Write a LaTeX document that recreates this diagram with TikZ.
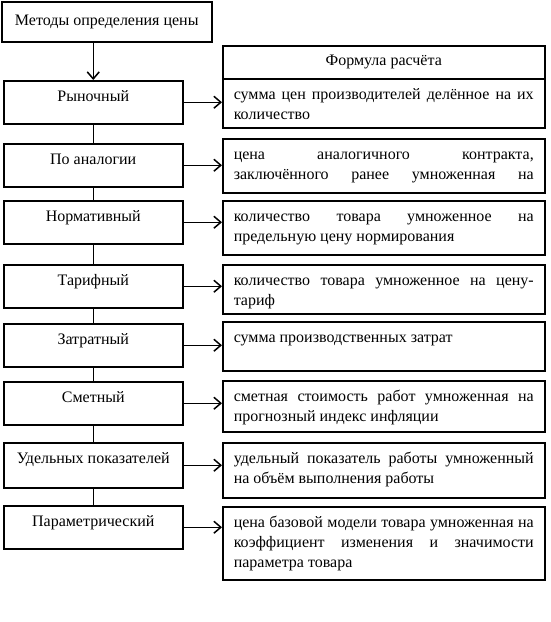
\documentclass[tikz,border=0pt]{standalone}
\usepackage{fontspec}
\setmainfont{Liberation Serif}
\usetikzlibrary{arrows.meta}
\newcommand{\frm}[2]{\parbox[c][#1][t]{300pt}{\tolerance=10000\rule{0pt}{21pt}#2}}

\begin{document}
\begin{tikzpicture}[x=1pt, y=-1pt, font=\fontsize{16pt}{20pt}\selectfont]
		%%%%% START %%%%%
		\tikzset{
			box/.style={draw, line width=1.5pt, inner sep=0pt, anchor=north west},
			method/.style={box, minimum width=179pt, text height=21pt, text depth=22pt},
			formula/.style={box, inner xsep=11pt, inner ysep=0pt},
			link/.style={line width=1.5pt},
			arr/.style={link, -{Straight Barb[length=7pt, width=12pt]}}
		}
		\useasboundingbox (0, 0) rectangle (550, 622);
		
		\node[box, minimum width=210pt, minimum height=40pt] (title) at (1, 1) {Методы определения цены};
		
		% methods
		\node[method] (rynok) at (3, 80) {Рыночный};
		\node[method] (analog) at (3, 143) {По аналогии};
		\node[method] (norm) at (3, 200) {Нормативный};
		\node[method] (tarif) at (3, 264) {Тарифный};
		\node[method] (zatrat) at (3, 323) {Затратный};
		\node[method] (smeta) at (3, 381) {Сметный};
		\node[method, text depth=24pt] (udel) at (3, 442) {Удельных показателей};
		\node[method] (param) at (3, 505) {Параметрический};
		
		% formulas
		\node[box, minimum width=322pt, minimum height=33pt] (head) at (222, 45) {Формула расчёта};
		\node[formula] (f-rynok) at (222, 78) {\frm{49pt}{сумма цен производителей делённое на их\linebreak количество}};
		\node[formula] (f-analog) at (222, 138) {\frm{54pt}{\parfillskip=0pt цена аналогичного контракта,\linebreak заключённого ранее умноженная на}};
		\node[formula] (f-norm) at (222, 200) {\frm{54pt}{количество товара умноженное на\linebreak предельную цену нормирования}};
		\node[formula] (f-tarif) at (222, 264) {\frm{49pt}{количество товара умноженное на цену-\linebreak тариф}};
		\node[formula] (f-zatrat) at (222, 321) {\frm{49pt}{сумма производственных затрат}};
		\node[formula] (f-smeta) at (222, 380) {\frm{51pt}{сметная стоимость работ умноженная на\linebreak прогнозный индекс инфляции}};
		\node[formula] (f-udel) at (222, 442) {\frm{55pt}{удельный показатель работы умноженный\linebreak на объём выполнения работы}};
		\node[formula] (f-param) at (222, 506) {\frm{73pt}{цена базовой модели товара умноженная на\linebreak коэффициент изменения и значимости\linebreak параметра товара}};
		
		% spine
		\draw[arr] (rynok.north |- title.south) -- (rynok.north);
		\draw[link] (rynok.south) -- (analog.north) (analog.south) -- (norm.north)
			(norm.south) -- (tarif.north) (tarif.south) -- (zatrat.north)
			(zatrat.south) -- (smeta.north) (smeta.south) -- (udel.north)
			(udel.south) -- (param.north);
		
		% arrows to formulas
		\draw[arr] (rynok.east) -- (rynok.east -| f-rynok.west);
		\draw[arr] (analog.east) -- (analog.east -| f-analog.west);
		\draw[arr] (norm.east) -- (norm.east -| f-norm.west);
		\draw[arr] (tarif.east) -- (tarif.east -| f-tarif.west);
		\draw[arr] (zatrat.east) -- (zatrat.east -| f-zatrat.west);
		\draw[arr] (smeta.east) -- (smeta.east -| f-smeta.west);
		\draw[arr] (udel.east) -- (udel.east -| f-udel.west);
		\draw[arr] (param.east) -- (param.east -| f-param.west);
		%%%%% END %%%%%
	\end{tikzpicture}
\end{document}
